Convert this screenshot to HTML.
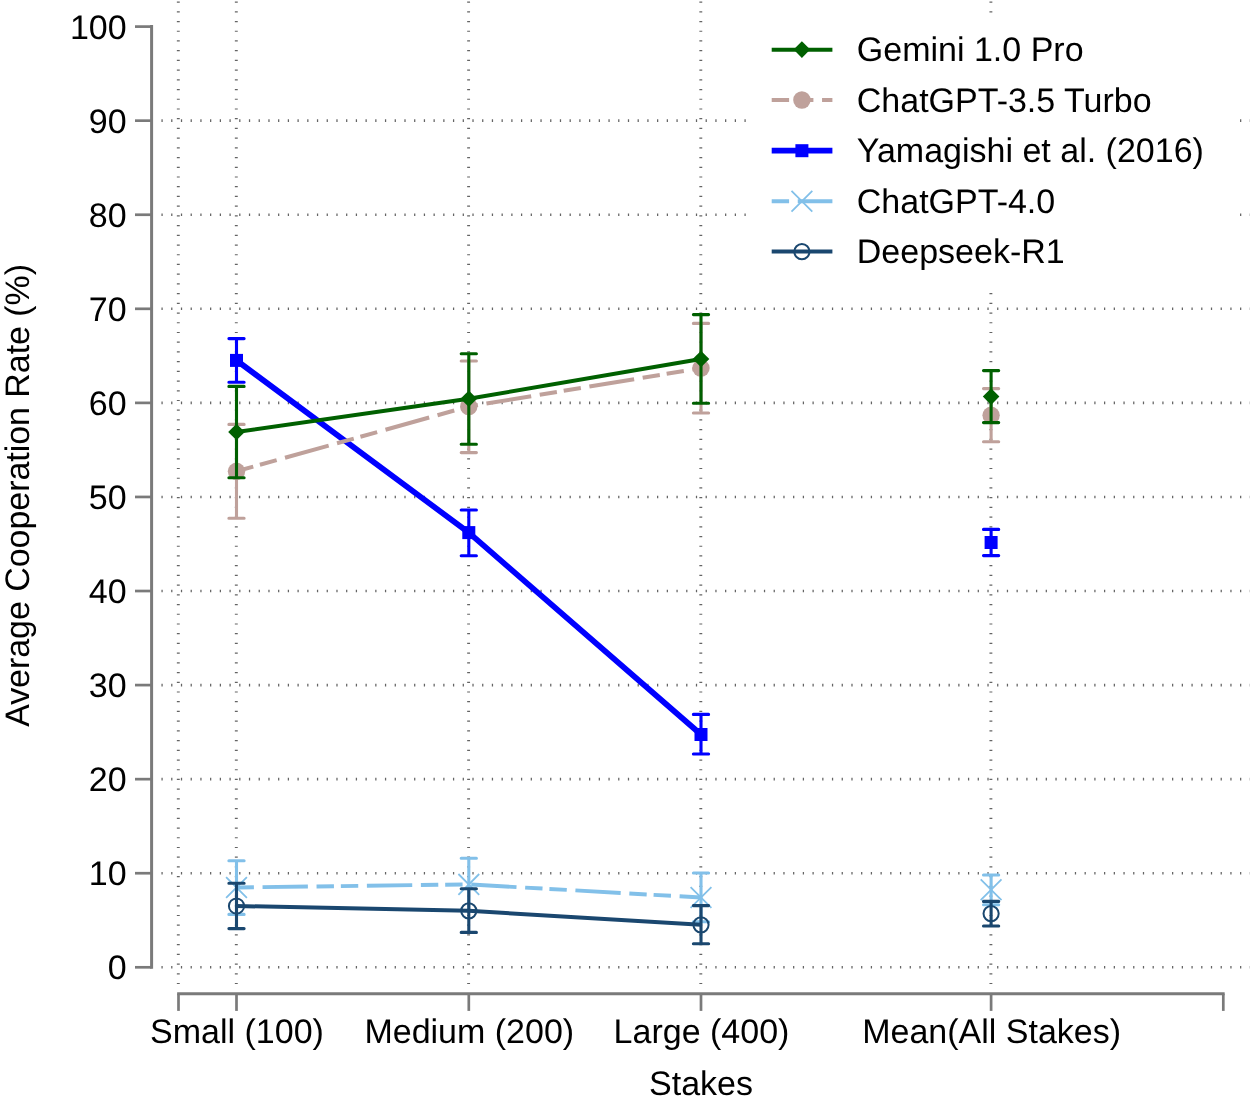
<!DOCTYPE html>
<html><head><meta charset="utf-8"><title>Average Cooperation Rate by Stakes</title>
<style>
html,body{margin:0;padding:0;background:#fff;}
svg{display:block;will-change:transform;}
text{font-family:"Liberation Sans",sans-serif;font-size:34px;fill:#000;text-rendering:geometricPrecision;}
</style></head><body>
<svg width="1250" height="1106" viewBox="0 0 1250 1106">
<rect width="1250" height="1106" fill="#fff"/>
<g stroke="#646464" fill="none">
<line x1="161.45" x2="1252" y1="967.30" y2="967.30" stroke-width="2.6" stroke-dasharray="1.25 8.467"/>
<line x1="161.45" x2="1252" y1="873.23" y2="873.23" stroke-width="2.6" stroke-dasharray="1.25 8.467"/>
<line x1="161.45" x2="1252" y1="779.16" y2="779.16" stroke-width="2.6" stroke-dasharray="1.25 8.467"/>
<line x1="161.45" x2="1252" y1="685.09" y2="685.09" stroke-width="2.6" stroke-dasharray="1.25 8.467"/>
<line x1="161.45" x2="1252" y1="591.02" y2="591.02" stroke-width="2.6" stroke-dasharray="1.25 8.467"/>
<line x1="161.45" x2="1252" y1="496.95" y2="496.95" stroke-width="2.6" stroke-dasharray="1.25 8.467"/>
<line x1="161.45" x2="1252" y1="402.88" y2="402.88" stroke-width="2.6" stroke-dasharray="1.25 8.467"/>
<line x1="161.45" x2="1252" y1="308.81" y2="308.81" stroke-width="2.6" stroke-dasharray="1.25 8.467"/>
<line x1="161.45" x2="1252" y1="214.74" y2="214.74" stroke-width="2.6" stroke-dasharray="1.25 8.467"/>
<line x1="161.45" x2="1252" y1="120.67" y2="120.67" stroke-width="2.6" stroke-dasharray="1.25 8.467"/>
<line x1="178.3" x2="178.3" y1="1.5" y2="984.3" stroke-width="2.9" stroke-dasharray="1.2 8.517"/>
<line x1="236.3" x2="236.3" y1="1.5" y2="984.3" stroke-width="2.9" stroke-dasharray="1.2 8.517"/>
<line x1="468.6" x2="468.6" y1="1.5" y2="984.3" stroke-width="2.9" stroke-dasharray="1.2 8.517"/>
<line x1="700.8" x2="700.8" y1="1.5" y2="984.3" stroke-width="2.9" stroke-dasharray="1.2 8.517"/>
<line x1="990.9" x2="990.9" y1="1.5" y2="984.3" stroke-width="2.9" stroke-dasharray="1.2 8.517"/>
</g>
<g stroke="#7a7a7a" stroke-width="3" fill="none" stroke-linecap="butt">
<path d="M151.6 25.10V968.80"/>
<path d="M135 967.30H151.6" stroke-width="2.7"/>
<path d="M135 873.23H151.6" stroke-width="2.7"/>
<path d="M135 779.16H151.6" stroke-width="2.7"/>
<path d="M135 685.09H151.6" stroke-width="2.7"/>
<path d="M135 591.02H151.6" stroke-width="2.7"/>
<path d="M135 496.95H151.6" stroke-width="2.7"/>
<path d="M135 402.88H151.6" stroke-width="2.7"/>
<path d="M135 308.81H151.6" stroke-width="2.7"/>
<path d="M135 214.74H151.6" stroke-width="2.7"/>
<path d="M135 120.67H151.6" stroke-width="2.7"/>
<path d="M135 26.60H151.6" stroke-width="2.7"/>
<path d="M177.15 993.7H1224.6499999999999"/>
<path d="M178.5 993.7V1010.9" stroke-width="2.7"/>
<path d="M236.5 993.7V1010.9" stroke-width="2.7"/>
<path d="M468.8 993.7V1010.9" stroke-width="2.7"/>
<path d="M701.0 993.7V1010.9" stroke-width="2.7"/>
<path d="M991.1 993.7V1010.9" stroke-width="2.7"/>
<path d="M1223.3 993.7V1010.9" stroke-width="2.7"/>
</g>
<g stroke="#0000ff" fill="none">
<path d="M236.5 338.6V382.2M228.9 338.6H244.1M228.9 382.2H244.1M468.8 510V555.8M461.2 510H476.40000000000003M461.2 555.8H476.40000000000003M701.0 714.4V754M693.4 714.4H708.6M693.4 754H708.6M991.1 529.4V555.6M983.5 529.4H998.7M983.5 555.6H998.7" stroke-width="3.1" stroke-linecap="round"/>
<polyline points="236.5,360.4 468.8,532.6 701.0,734.5" stroke-width="5.7" stroke-linejoin="round"/>
</g>
<rect x="230.0" y="353.9" width="13" height="13" fill="#0000ff"/>
<rect x="462.3" y="526.1" width="13" height="13" fill="#0000ff"/>
<rect x="694.5" y="728.0" width="13" height="13" fill="#0000ff"/>
<rect x="984.6" y="536.0" width="13" height="13" fill="#0000ff"/>
<g stroke="#bfa19b" fill="none">
<path d="M236.5 424.4V518.2M228.9 424.4H244.1M228.9 518.2H244.1M468.8 361V452.6M461.2 361H476.40000000000003M461.2 452.6H476.40000000000003M701.0 323.4V413M693.4 323.4H708.6M693.4 413H708.6M991.1 388.6V441.8M983.5 388.6H998.7M983.5 441.8H998.7" stroke-width="3.1" stroke-linecap="round"/>
<polyline points="236.5,471.3 468.8,406.5 701.0,368.1" stroke-width="4.0" stroke-linejoin="round" stroke-dasharray="17.4 6.9 17.4 8.65 45.35 8.65"/>
</g>
<circle cx="236.5" cy="471.3" r="8.7" fill="#bfa19b"/>
<circle cx="468.8" cy="406.5" r="8.7" fill="#bfa19b"/>
<circle cx="701.0" cy="368.1" r="8.7" fill="#bfa19b"/>
<circle cx="991.1" cy="415.3" r="8.7" fill="#bfa19b"/>
<g stroke="#006000" fill="none">
<path d="M236.5 386.4V477.8M228.9 386.4H244.1M228.9 477.8H244.1M468.8 353.8V444.2M461.2 353.8H476.40000000000003M461.2 444.2H476.40000000000003M701.0 314.6V403.2M693.4 314.6H708.6M693.4 403.2H708.6M991.1 370.6V422.6M983.5 370.6H998.7M983.5 422.6H998.7" stroke-width="3.1" stroke-linecap="round"/>
<polyline points="236.5,432 468.8,398.8 701.0,359" stroke-width="4.0" stroke-linejoin="round"/>
</g>
<path d="M236.5 423.7L244.8 432.0L236.5 440.3L228.2 432.0Z" fill="#006000"/>
<path d="M468.8 390.5L477.1 398.8L468.8 407.1L460.5 398.8Z" fill="#006000"/>
<path d="M701.0 350.7L709.3 359.0L701.0 367.3L692.7 359.0Z" fill="#006000"/>
<path d="M991.1 388.3L999.4 396.6L991.1 404.9L982.8 396.6Z" fill="#006000"/>
<g stroke="#82c0e9" fill="none">
<path d="M236.5 860.8V914.4M228.9 860.8H244.1M228.9 914.4H244.1M468.8 858.2V910.6M461.2 858.2H476.40000000000003M461.2 910.6H476.40000000000003M701.0 873V921.8M693.4 873H708.6M693.4 921.8H708.6M991.1 875V904.8M983.5 875H998.7M983.5 904.8H998.7" stroke-width="3.1" stroke-linecap="round"/>
<polyline points="236.5,887.5 468.8,884.4 701.0,897.5" stroke-width="3.9" stroke-linejoin="round" stroke-dasharray="17.4 8.65 45.35 8.65 17.4 6.9"/>
</g>
<path d="M226.1 877.1L246.9 897.9M226.1 897.9L246.9 877.1" stroke="#82c0e9" stroke-width="1.8" fill="none"/>
<path d="M458.4 874.0L479.2 894.8M458.4 894.8L479.2 874.0" stroke="#82c0e9" stroke-width="1.8" fill="none"/>
<path d="M690.6 887.1L711.4 907.9M690.6 907.9L711.4 887.1" stroke="#82c0e9" stroke-width="1.8" fill="none"/>
<path d="M980.7 879.4L1001.5 900.2M980.7 900.2L1001.5 879.4" stroke="#82c0e9" stroke-width="1.8" fill="none"/>
<g stroke="#1a476f" fill="none">
<path d="M236.5 883.2V928.6M228.9 883.2H244.1M228.9 928.6H244.1M468.8 888.8V932.4M461.2 888.8H476.40000000000003M461.2 932.4H476.40000000000003M701.0 905.6V943.8M693.4 905.6H708.6M693.4 943.8H708.6M991.1 901.4V926M983.5 901.4H998.7M983.5 926H998.7" stroke-width="3.1" stroke-linecap="round"/>
<polyline points="236.5,906 468.8,910.8 701.0,924.8" stroke-width="4.0" stroke-linejoin="round"/>
</g>
<circle cx="236.5" cy="906.0" r="7.6" fill="none" stroke="#1a476f" stroke-width="2"/>
<circle cx="468.8" cy="910.8" r="7.6" fill="none" stroke="#1a476f" stroke-width="2"/>
<circle cx="701.0" cy="924.8" r="7.6" fill="none" stroke="#1a476f" stroke-width="2"/>
<circle cx="991.1" cy="913.6" r="7.6" fill="none" stroke="#1a476f" stroke-width="2"/>
<rect x="749.5" y="16.5" width="486" height="272" fill="#fff"/>
<line x1="771.7" x2="832.4" y1="49.65" y2="49.65" stroke="#006000" stroke-width="4.0"/>
<path d="M801.9 41.3L810.2 49.6L801.9 58.0L793.6 49.6Z" fill="#006000"/>
<text x="856.8" y="61.2">Gemini 1.0 Pro</text>
<line x1="771.7" x2="832.4" y1="100.0" y2="100.0" stroke="#bfa19b" stroke-width="4.0" stroke-dasharray="17.4 6.9 17.4 8.65 45.35 8.65"/>
<circle cx="801.9" cy="100.0" r="8.7" fill="#bfa19b"/>
<text x="856.8" y="111.6">ChatGPT-3.5 Turbo</text>
<line x1="771.7" x2="832.4" y1="150.7" y2="150.7" stroke="#0000ff" stroke-width="5.7"/>
<rect x="795.4" y="144.2" width="13" height="13" fill="#0000ff"/>
<text x="856.8" y="162.3">Yamagishi et al. (2016)</text>
<line x1="771.7" x2="832.4" y1="201.2" y2="201.2" stroke="#82c0e9" stroke-width="3.9" stroke-dasharray="17.4 8.65 45.35 8.65 17.4 6.9"/>
<path d="M791.5 190.8L812.3 211.6M791.5 211.6L812.3 190.8" stroke="#82c0e9" stroke-width="1.8" fill="none"/>
<text x="856.8" y="212.8">ChatGPT-4.0</text>
<line x1="771.7" x2="832.4" y1="251.6" y2="251.6" stroke="#1a476f" stroke-width="4.0"/>
<circle cx="801.9" cy="251.6" r="7.6" fill="none" stroke="#1a476f" stroke-width="2"/>
<text x="856.8" y="263.2">Deepseek-R1</text>
<text x="126.7" y="979.2" text-anchor="end">0</text>
<text x="126.7" y="885.1" text-anchor="end">10</text>
<text x="126.7" y="791.1" text-anchor="end">20</text>
<text x="126.7" y="697.0" text-anchor="end">30</text>
<text x="126.7" y="602.9" text-anchor="end">40</text>
<text x="126.7" y="508.8" text-anchor="end">50</text>
<text x="126.7" y="414.8" text-anchor="end">60</text>
<text x="126.7" y="320.7" text-anchor="end">70</text>
<text x="126.7" y="226.6" text-anchor="end">80</text>
<text x="126.7" y="132.6" text-anchor="end">90</text>
<text x="126.7" y="38.5" text-anchor="end">100</text>
<text x="237.0" y="1042.8" text-anchor="middle">Small (100)</text>
<text x="469.3" y="1042.8" text-anchor="middle">Medium (200)</text>
<text x="701.5" y="1042.8" text-anchor="middle">Large (400)</text>
<text x="991.6" y="1042.8" text-anchor="middle">Mean(All Stakes)</text>
<text x="701" y="1094.8" text-anchor="middle">Stakes</text>
<text transform="translate(29 495.4) rotate(-90)" text-anchor="middle" style="letter-spacing:-0.05px">Average Cooperation Rate (%)</text>
</svg></body></html>
